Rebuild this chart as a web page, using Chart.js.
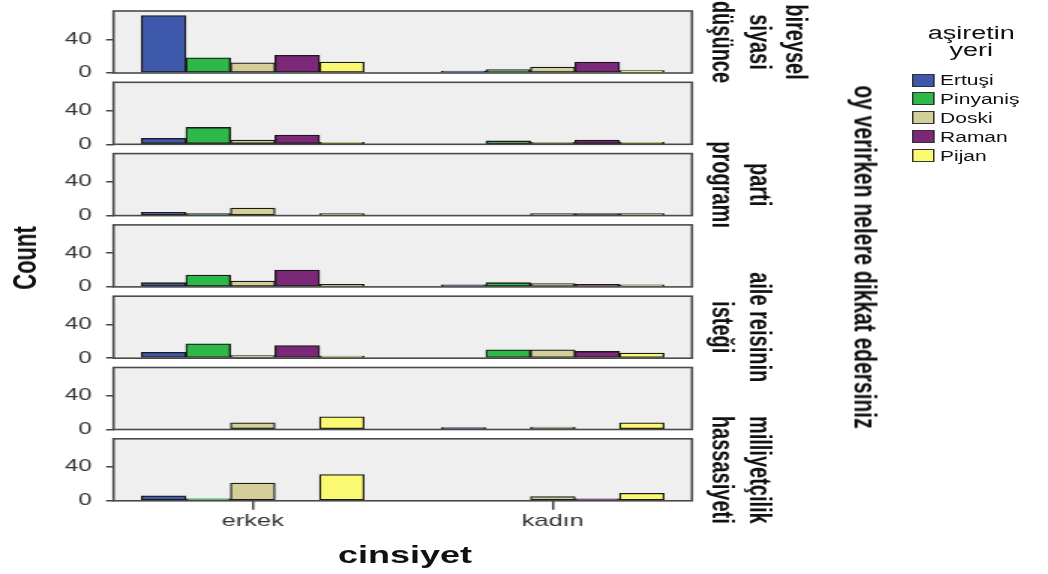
<!DOCTYPE html>
<html>
<head>
<meta charset="utf-8">
<script src="https://cdn.jsdelivr.net/npm/chart.js@4.4.1/dist/chart.umd.min.js"></script>
<style>
  html, body { margin: 0; padding: 0; background: #fff; overflow: hidden; }
  #stage {
    position: absolute; left: 0; top: 0; width: 699px; height: 574px;
    transform: scaleX(1.5); transform-origin: 0 0;
    font-family: "Liberation Sans", Arial, sans-serif; color: #111;
  }
  #stage canvas { position: absolute; left: 0; top: 0; }
  .txt { position: absolute; white-space: nowrap; line-height: 1; }
  .swatch { position: absolute; width: 15px; height: 13px; box-sizing: border-box; border: 1px solid #333; }
</style>
</head>
<body>
<div id="stage"></div>
<script>
const genders = ["erkek", "kadın"];
const tribes = ["Ertuşi", "Pinyaniş", "Doski", "Raman", "Pijan"];
const colors = ["#3e58ab", "#2eb848", "#d4ce98", "#7c2878", "#fbf871"];
const yTicks = [0, 40];

// one row per panel, values in tribe order
const erkek = [
  [68, 18, 12, 21, 13],
  [7, 20, 5, 11, 2],
  [4, 2, 9, null, 1],
  [5, 14, 7, 20, 3],
  [7, 17, 3, 15, 1],
  [null, null, 8, null, 15],
  [6, 2, 21, null, 31],
];
const kadin = [
  [1, 4, 7, 13, 3],
  [null, 4, 1, 5, 2],
  [null, null, 1, 1, 1],
  [1, 5, 4, 3, 2],
  [null, 10, 10, 8, 6],
  [1, null, 3, null, 8],
  [null, null, 5, 1, 9],
];
// only some panel labels are printed in the original
const panelLabels = [
  ["bireysel", "siyasi", "düşünce"],
  null,
  ["parti", "programı"],
  null,
  ["aile reisinin", "isteği"],
  null,
  ["milliyetçilik", "hassasiyeti"],
];

const W = 699, H = 574;
const LEFT = 75.7, RIGHT = 461.3;
const ZERO_Y = 73, PITCH = 71.3, PLOT_H = 62;
const X_AXIS_H = 34;
const FONT = "'Liberation Sans', Arial, sans-serif";

const stage = document.getElementById("stage");

const panelPlugin = {
  id: "panel",
  beforeDraw(chart) {
    const { ctx, chartArea: a } = chart;
    ctx.save();
    ctx.fillStyle = "#efefef";
    ctx.fillRect(a.left, a.top, a.width, a.height);
    ctx.restore();
  },
  afterDraw(chart, args, opts) {
    const { ctx, chartArea: a } = chart;
    ctx.save();
    ctx.strokeStyle = "#4a4a4a";
    ctx.lineWidth = 1.6;
    ctx.strokeRect(a.left, a.top, a.width, a.height);
    if (opts.lines) {
      ctx.fillStyle = "#111";
      ctx.font = "bold 20px " + FONT;
      ctx.textAlign = "center";
      ctx.textBaseline = "middle";
      const cy = (a.top + a.bottom) / 2;
      const n = opts.lines.length;
      opts.lines.forEach((line, i) => {
        const k = n - 1 - i;
        ctx.save();
        ctx.translate(481 + k * 24.3, cy);
        ctx.rotate(Math.PI / 2);
        ctx.fillText(line, 0, 0);
        ctx.restore();
      });
    }
    ctx.restore();
  },
};

function makePanel(i) {
  const last = i === erkek.length - 1;
  const zero = ZERO_Y + PITCH * i;
  const canvas = document.createElement("canvas");
  canvas.width = W;
  canvas.height = H;
  stage.appendChild(canvas);

  const datasets = tribes.map((name, t) => ({
    label: name,
    data: [
      { x: 0, y: erkek[i][t] },
      { x: 1, y: kadin[i][t] },
    ],
    backgroundColor: colors[t],
    borderColor: "#1a1a1a",
    borderWidth: 1.3,
    borderSkipped: false,
    barThickness: 29.7,
    minBarLength: 2,
  }));

  new Chart(canvas, {
    type: "bar",
    data: { datasets },
    plugins: [panelPlugin],
    options: {
      responsive: false,
      animation: false,
      events: [],
      layout: {
        padding: {
          left: 0,
          right: W - RIGHT,
          top: zero - PLOT_H,
          bottom: H - zero - (last ? X_AXIS_H : 0),
        },
      },
      plugins: {
        legend: { display: false },
        tooltip: { enabled: false },
        panel: { lines: panelLabels[i] },
      },
      scales: {
        x: {
          type: "linear",
          display: last,
          offset: false,
          min: -0.464,
          max: 1.464,
          afterBuildTicks: (axis) => {
            axis.ticks = [{ value: 0 }, { value: 1 }];
          },
          afterFit: (axis) => {
            if (last) axis.height = X_AXIS_H;
            axis.paddingLeft = 0;
            axis.paddingRight = 0;
          },
          border: { display: false },
          grid: { offset: false, drawOnChartArea: false, tickLength: 9, color: "#444", lineWidth: 1.5 },
          ticks: {
            callback: (v) => genders[v],
            font: { family: FONT, size: 17 },
            color: "#333",
            padding: 1,
            maxRotation: 0,
          },
        },
        y: {
          min: 0,
          max: 73.5,
          afterBuildTicks: (axis) => {
            axis.ticks = yTicks.map((v) => ({ value: v }));
          },
          afterFit: (axis) => {
            axis.width = LEFT;
            axis.paddingTop = 0;
            axis.paddingBottom = 0;
          },
          border: { display: false },
          grid: { drawOnChartArea: false, tickLength: 5, color: "#444", lineWidth: 1.5 },
          ticks: {
            font: { family: FONT, size: 16 },
            color: "#333",
            padding: 9.6,
          },
        },
      },
    },
  });
}

for (let i = 0; i < erkek.length; i++) {
  makePanel(i);
}

function addText(text, x, y, style, rotate) {
  const el = document.createElement("div");
  el.className = "txt";
  el.textContent = text;
  el.style.left = x + "px";
  el.style.top = y + "px";
  el.style.font = style;
  el.style.transform = "translate(-50%, -50%)" + (rotate ? " rotate(" + rotate + "deg)" : "");
  stage.appendChild(el);
  return el;
}

addText("Count", 17.3, 258, "bold 22px " + FONT, -90);
addText("cinsiyet", 270, 555, "bold 24px " + FONT);
addText("oy verirken nelere dikkat edersiniz", 576.5, 257, "bold 21px " + FONT, 90);

// legend
addText("aşiretin", 647.5, 33, "18px " + FONT);
addText("yeri", 647.5, 50, "18px " + FONT);
tribes.forEach((name, t) => {
  const y = 80 + 18.9 * t;
  const sw = document.createElement("div");
  sw.className = "swatch";
  sw.style.left = "607.5px";
  sw.style.top = y - 6.5 + "px";
  sw.style.background = colors[t];
  stage.appendChild(sw);
  const el = addText(name, 626.7, y, "14px " + FONT);
  el.style.transform = "translate(0, -50%)";
});
</script>
</body>
</html>
